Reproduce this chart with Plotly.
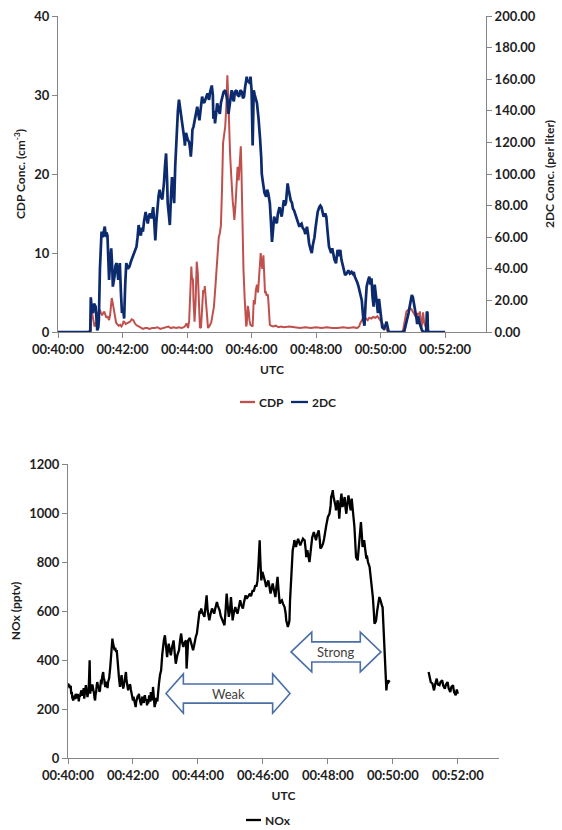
import plotly.graph_objects as go
import pandas as pd

# ---------------------------------------------------------------
# Time axis: seconds elapsed after 00:40:00 UTC
# ---------------------------------------------------------------

# CDP droplet concentration (cm^-3)
cdp_sec = [0, 30, 60, 61, 62, 64, 66, 68, 70, 72, 74, 76, 78, 80, 82, 84, 86, 88, 90, 92,
           95, 97, 100, 102, 104, 106, 108, 110, 113, 116, 118, 120, 122, 124, 126, 128, 131,
           134, 137, 140, 143, 146, 150, 154, 158, 162, 166, 170, 175, 180, 185, 190, 195,
           200, 205, 210, 215, 220, 225, 230, 234, 237, 239, 241, 242, 244, 246, 248, 249,
           251, 252, 254, 256, 258, 260, 262, 264, 266, 268, 270, 272, 273, 275, 277, 279,
           282, 285, 287, 290, 293, 295, 297, 299, 301, 303, 305, 307, 309, 311, 313, 315,
           317, 318, 320, 322, 323, 325, 326, 328, 330, 331, 333, 334, 336, 338, 340, 341,
           342, 343, 345, 347, 348, 350, 351, 353, 355, 356, 358, 360, 362, 364, 366, 368,
           370, 372, 374, 376, 377, 378, 380, 382, 383, 385, 386, 388, 390, 391, 393, 394,
           396, 400, 405, 410, 415, 420, 430, 440, 450, 460, 470, 480, 490, 500, 510, 520,
           530, 540, 550, 556, 560, 562, 564, 566, 568, 570, 573, 576, 579, 583, 586, 590,
           594, 597, 600, 603, 606, 608, 611, 614, 620, 630, 640, 642, 644, 646, 648, 651,
           654, 657, 660, 663, 665, 667, 669, 671, 673, 675, 676, 678, 679, 681, 683, 685,
           686, 687, 688, 689, 695]
cdp_conc = [0, 0, 0, 0.2, 3.0, 2.2, 1.5, 0.7, 1.0, 1.3, 2.4, 2.6, 2.8, 2.4, 2.1, 2.4, 2.6,
            2.2, 1.8, 2.0, 1.5, 2.2, 4.3, 3.6, 2.8, 1.8, 1.2, 1.0, 0.8, 0.9, 0.7, 0.9, 1.4,
            1.2, 1.0, 1.1, 1.2, 1.3, 1.6, 1.5, 1.1, 0.85, 0.7, 0.6, 0.4, 0.5, 0.5, 0.4, 0.5,
            0.5, 0.6, 0.4, 0.5, 0.6, 0.7, 0.5, 0.6, 0.5, 0.6, 0.5, 0.6, 0.8, 1.1, 0.7, 0.5,
            1.5, 5.0, 8.3, 7.0, 6.6, 4.0, 1.3, 4.0, 8.9, 7.5, 3.5, 0.5, 0.6, 2.5, 5.3, 5.0,
            5.8, 4.0, 1.5, 0.5, 0.8, 1.2, 2.0, 3.2, 6.0, 8.3, 10.5, 12.0, 12.5, 13.5, 18.0,
            23.9, 25.0, 26.0, 28.5, 32.5, 29.0, 26.0, 22.6, 20.0, 18.4, 16.5, 15.9, 14.2,
            16.0, 17.6, 19.5, 20.9, 19.2, 21.8, 23.5, 21.0, 17.6, 13.0, 7.8, 4.5, 3.2, 0.7,
            1.0, 3.3, 2.5, 1.5, 0.9, 0.8, 0.7, 4.05, 3.5, 5.3, 6.0, 5.0, 7.4, 9.0, 10.0, 9.0,
            8.0, 9.7, 8.0, 4.9, 5.2, 4.6, 4.8, 4.2, 2.0, 0.9, 0.8, 0.7, 0.8, 0.6, 0.7, 0.6,
            0.7, 0.6, 0.5, 0.6, 0.5, 0.6, 0.5, 0.6, 0.5, 0.5, 0.6, 0.5, 0.6, 0.5, 0.7, 1.1,
            1.3, 1.6, 1.5, 1.4, 1.7, 1.5, 1.8, 1.7, 1.9, 1.8, 2.0, 1.7, 1.5, 1.2, 0.9, 0.7,
            0.3, 0, 0, 0, 0, 0.3, 1.05, 1.8, 2.6, 2.8, 3.0, 2.9, 2.5, 2.2, 2.0, 1.9, 2.4,
            2.1, 2.6, 1.5, 0.6, 1.5, 2.5, 1.2, 0.6, 0.4, 1.5, 2.5, 0.5, 0, 0]

# 2DC particle concentration (per liter)
twodc_sec = [0, 30, 55, 60, 61, 63, 65, 67, 70, 72, 73, 75, 76, 78, 81, 83, 85, 87, 89, 90,
             92, 94, 95, 97, 99, 101, 102, 105, 107, 109, 111, 112, 114, 115, 117, 119, 121,
             123, 125, 127, 130, 133, 136, 140, 143, 146, 148, 150, 152, 154, 156, 158, 160,
             163, 165, 167, 169, 171, 174, 177, 179, 181, 183, 185, 187, 189, 191, 194, 196,
             197, 199, 201, 203, 204, 206, 208, 210, 212, 214, 216, 218, 221, 223, 225, 227,
             229, 231, 233, 235, 236, 238, 239, 241, 244, 246, 247, 249, 250, 252, 255, 257,
             259, 261, 263, 265, 268, 270, 272, 275, 278, 280, 281, 283, 286, 288, 289, 291,
             292, 294, 296, 298, 301, 303, 306, 308, 311, 313, 315, 317, 320, 322, 323, 325,
             327, 329, 332, 334, 337, 339, 342, 344, 346, 348, 351, 353, 355, 357, 358, 360,
             361, 362, 363, 364, 366, 368, 370, 373, 374, 376, 378, 379, 381, 382, 384, 387,
             389, 391, 392, 394, 396, 398, 400, 402, 404, 407, 409, 412, 414, 416, 418, 420,
             422, 424, 426, 427, 429, 431, 433, 435, 437, 439, 441, 444, 446, 449, 451, 453,
             455, 458, 460, 463, 465, 467, 470, 472, 474, 477, 479, 481, 483, 486, 488, 490,
             492, 494, 497, 499, 501, 504, 506, 508, 510, 512, 514, 517, 519, 520, 522, 525,
             527, 530, 532, 534, 537, 540, 543, 546, 548, 550, 552, 555, 557, 559, 561, 563,
             565, 568, 570, 572, 574, 577, 579, 581, 583, 585, 587, 589, 591, 593, 595, 597,
             599, 601, 603, 606, 609, 611, 613, 615, 620, 630, 640, 644, 646, 648, 650, 652,
             654, 656, 658, 660, 662, 664, 665, 667, 668, 670, 672, 674, 676, 677, 680, 684,
             685, 686, 687, 688, 689, 700, 710, 720]
twodc_conc = [0, 0, 0, 0.5, 22, 14, 12, 18, 16, 6, 1, 3, 7.6, 40, 63.5, 60, 64, 66.7, 60, 63,
              61, 45, 33, 45, 53, 40, 28.7, 35, 42, 43.6, 38, 33, 40, 43.6, 25, 12, 15, 8.5,
              30, 43.6, 40, 41.5, 45, 48.7, 52, 54, 60, 67.7, 63, 61, 66, 63.5, 70, 76, 72,
              68.6, 73, 75, 72, 79, 70, 58, 70, 79, 86, 90, 86, 84, 90, 94, 105, 113, 95,
              81.5, 75, 67.7, 85, 98, 90, 81.5, 105, 128, 140, 147, 143, 137, 132, 128, 122,
              118, 126, 125, 122, 120, 115, 111, 120, 128, 130, 135, 140, 142.6, 138, 134, 140,
              149, 146, 145, 148, 151, 148, 147, 152, 156, 150, 135, 140, 132, 138, 144.7, 142,
              138, 145, 149, 152, 153, 150, 147, 138, 144.7, 150, 153, 148, 146, 152, 153, 150,
              149, 153, 152, 148, 149, 155, 161.6, 158, 159, 157, 161.6, 153, 140, 118, 135,
              153, 150, 147, 145, 135, 128, 121.5, 110, 100, 95, 92, 88, 85.6, 90, 88, 86,
              81.5, 70, 57, 65, 73, 70, 69, 75, 79, 76, 73, 78, 83.5, 80, 82, 90, 94, 90, 86,
              83, 82, 78, 77, 75, 73, 70, 66.6, 68, 68.6, 66, 64.5, 62, 66.6, 62, 56, 52, 50,
              55, 60, 66, 71, 76, 79, 80, 79, 76, 73, 75, 73, 65, 54, 52, 50, 53, 48, 46,
              43.5, 49, 52, 48, 52, 46, 41, 38, 36, 37, 39, 37, 38, 37, 38, 35, 33, 31, 28.7,
              25, 22, 20, 7.6, 4, 18, 28.7, 33, 35, 30, 34, 22, 16, 30, 24, 14, 12, 21, 14,
              6.5, 3, 2, 4, 6.5, 2, 0, 0, 0, 0, 0.5, 3.4, 5, 8, 12, 16, 21, 23.4, 22, 18, 15,
              14, 8, 5, 10, 6, 3, 2, 1, 0, 0, 2, 13, 12, 1, 0, 0, 0, 0]

# NOx mixing ratio (pptv); None marks the gap in the record
nox_sec = [0, 1, 2, 3, 5, 6, 7, 8, 10, 11,
           12, 13, 14, 15, 17, 18, 20, 21, 22, 24,
           25, 26, 27, 29, 30, 31, 33, 34, 35, 36,
           37, 38, 39, 40, 41, 42, 43, 45, 46, 47,
           48, 49, 50, 51, 52, 53, 54, 56, 57, 58,
           59, 61, 62, 63, 65, 66, 67, 68, 69, 70,
           72, 73, 74, 76, 77, 78, 79, 80, 81, 82,
           83, 84, 85, 86, 87, 88, 89, 90, 91, 92,
           93, 94, 95, 96, 97, 98, 99, 100, 101, 102,
           103, 104, 106, 107, 108, 109, 110, 111, 112, 113,
           114, 115, 116, 118, 119, 120, 121, 122, 123, 124,
           125, 126, 127, 128, 129, 130, 131, 132, 133, 134,
           135, 136, 137, 138, 140, 141, 142, 143, 145, 146,
           147, 148, 149, 150, 151, 152, 153, 154, 155, 156,
           157, 158, 159, 160, 161, 162, 163, 165, 166, 167,
           168, 170, 172, 174, 175, 177, 179, 181, 183, 185, 186, 188, 190, 192,
           195, 197, 199, 202, 205, 207, 209, 211, 213, 215, 218, 219, 220, 222, 225, 228,
           231, 233, 234, 236, 238, 239, 241, 243, 244, 246, 248, 250, 252, 254, 256, 258,
           261, 263, 266, 268, 270, 272, 275, 277, 280, 282, 285, 287, 289, 291, 293, 295,
           297, 299, 301, 303, 304, 306, 309, 311, 313, 315, 318, 320, 323, 325, 328, 330,
           332, 334, 336, 338, 341, 343, 346, 348, 350, 352, 353, 354, 355, 357, 359, 362,
           364, 366, 368, 370, 372, 374, 376, 378, 380, 383, 385, 387, 389, 391, 393, 395,
           397, 400, 402, 403, 405, 406, 408, 409, 410, 412, 414, 415, 417, 418, 420, 421,
           423, 425, 427, 429, 431, 434, 436, 437, 439, 440, 442, 444, 446, 448, 449, 451,
           454, 456, 458, 460, 463, 465, 466, 468, 471, 473, 475, 477, 480, 483, 485, 486,
           488, 489, 490, 492, 494, 495, 497, 498, 500, 501, 503, 505, 507, 509, 511, 512,
           514, 516, 518, 520, 522, 524, 526, 529, 531, 532, 535, 537, 538, 540, 541, 543,
           544, 546, 547, 549, 551, 552, 554, 557, 559, 560, 562, 563, 565, 566, 568, 569,
           571, 572, 574, 575, 577, 578, 580, 581, 582, 583, 585, 586, 588, 589, 590, 592,
           594, 630, 666, 668, 670, 673, 675, 676, 678, 681, 683, 686, 688, 691, 693, 696,
           698, 701, 703, 706, 708, 711, 713, 716, 718, 720]
nox_pptv = [304, 298, 300, 285, 295, 260, 270, 245, 235, 255,
            250, 240, 262, 250, 245, 262, 231, 255, 250, 270,
            276, 255, 260, 285, 242, 265, 297, 280, 270, 249,
            265, 270, 330, 399, 263, 280, 275, 300, 290, 270,
            265, 245, 235, 260, 270, 295, 310, 285, 290, 270,
            276, 320, 300, 330, 351, 325, 320, 300, 290, 310,
            300, 285, 310, 325, 340, 370, 399, 420, 450, 487,
            470, 460, 445, 440, 450, 445, 433, 440, 420, 399,
            360, 330, 300, 290, 310, 320, 338, 310, 300, 283,
            295, 310, 330, 351, 320, 300, 285, 276, 290, 285,
            300, 297, 280, 260, 250, 235, 250, 240, 225, 215,
            208, 230, 245, 240, 255, 250, 262, 245, 230, 220,
            215, 230, 250, 240, 225, 250, 256, 240, 235, 215,
            240, 222, 235, 255, 250, 230, 269, 255, 250, 235,
            290, 260, 240, 208, 220, 225, 245, 231, 255, 270,
            304, 340, 358, 420, 446, 480, 501, 460, 412, 450, 467, 440, 419, 450,
            480, 430, 385, 420, 440, 480, 508, 470, 453, 470, 480, 365, 420, 480, 490, 467,
            440, 460, 480, 495, 508, 530, 562, 600, 589, 610, 595, 585, 576, 620, 664, 600,
            562, 585, 610, 600, 589, 610, 637, 620, 603, 580, 562, 555, 542, 600, 671, 620,
            576, 600, 657, 600, 562, 590, 616, 600, 589, 610, 644, 625, 610, 635, 664, 650,
            657, 665, 671, 660, 685, 680, 705, 700, 725, 800, 882, 889, 820, 725, 760, 739,
            720, 698, 710, 725, 700, 671, 690, 712, 690, 657, 700, 739, 680, 630, 640, 644,
            630, 616, 590, 562, 545, 535, 550, 562, 640, 725, 800, 848, 870, 889, 875, 861,
            880, 895, 880, 868, 880, 895, 890, 889, 850, 820, 848, 830, 800, 840, 875, 900,
            922, 900, 889, 910, 929, 890, 855, 860, 875, 895, 916, 950, 984, 997, 1030, 1065,
            1080, 1093, 1070, 1052, 1030, 1011, 1040, 1052, 1010, 977, 1040, 1079, 1024, 1040,
            1065, 1030,
            997, 1040, 1072, 1040, 1011, 1059, 1020, 943, 860, 820, 807, 850, 889, 930, 963, 900,
            861, 880, 889, 850, 814, 827, 800, 780, 740, 725, 690, 657, 590, 548, 555, 562,
            600, 616, 640, 657, 645, 630, 620, 616, 560, 480, 371, 330, 276, 300, 317, 310,
            317, None, 351, 330, 310, 304, 290, 276, 300, 324, 300, 297, 310, 317, 295, 283,
            300, 310, 285, 269, 290, 297, 270, 256, 280, 262]

# Transport regions marked on the NOx panel: (label, start s, end s, centre pptv)
regions = [("Weak", 181, 410, 263), ("Strong", 412, 578, 433)]

T0 = pd.Timestamp("2000-01-01 00:40:00")
T_END_SEC = 796


def to_time(secs):
    return [T0 + pd.Timedelta(seconds=s) for s in secs]


def to_ms(sec):
    t = T0 + pd.Timedelta(seconds=sec)
    return (t - pd.Timestamp("1970-01-01")).total_seconds() * 1000.0


W, H = 562, 830
FONT = "Lato, 'Open Sans', sans-serif"
AXIS_GREY = "#868686"
TEXT = "#1e1e1e"
RED = "#C0504D"
NAVY = "#0C2A6E"


def px_x(px):
    return px / W


def px_y(px):
    return 1 - px / H


fig = go.Figure()

fig.add_trace(go.Scatter(
    x=to_time(cdp_sec), y=cdp_conc, name="CDP", mode="lines",
    line=dict(color=RED, width=2), xaxis="x", yaxis="y", showlegend=False))
fig.add_trace(go.Scatter(
    x=to_time(twodc_sec), y=twodc_conc, name="2DC", mode="lines",
    line=dict(color=NAVY, width=2.7), xaxis="x", yaxis="y2", showlegend=False))
fig.add_trace(go.Scatter(
    x=to_time(nox_sec), y=nox_pptv, name="NOx", mode="lines", connectgaps=False,
    line=dict(color="black", width=2.3), xaxis="x2", yaxis="y3", showlegend=False))

tickfont = dict(family=FONT, size=13, color=TEXT, weight="bold")
titlefont = dict(family=FONT, size=12, color=TEXT, weight="bold")

axis_common = dict(showline=True, linecolor=AXIS_GREY, linewidth=1, ticks="outside",
                   ticklen=5, tickcolor=AXIS_GREY, showgrid=False, zeroline=False,
                   tickfont=tickfont, fixedrange=True, automargin=False)

time_axis = dict(type="date", range=[T0, T0 + pd.Timedelta(seconds=T_END_SEC)],
                 tick0=T0, dtick=120000, tickformat="%H:%M:%S", **axis_common)

fig.update_layout(
    width=W, height=H, margin=dict(l=0, r=0, t=0, b=0, autoexpand=False),
    paper_bgcolor="white", plot_bgcolor="white", showlegend=False,
    xaxis=dict(domain=[px_x(58), px_x(486)], anchor="y",
               title=dict(text="UTC", font=titlefont, standoff=10), **time_axis),
    yaxis=dict(domain=[px_y(332), px_y(16)], anchor="x", range=[0, 40], dtick=10,
               title=dict(text="CDP Conc. (cm<sup>-3</sup>)", font=titlefont, standoff=6),
               **axis_common),
    yaxis2=dict(overlaying="y", side="right", anchor="x", range=[0, 200], dtick=20,
                tickformat=".2f",
                title=dict(text="2DC Conc. (per liter)", font=titlefont, standoff=10),
                **axis_common),
    xaxis2=dict(domain=[px_x(68), px_x(499)], anchor="y3",
                title=dict(text="UTC", font=titlefont, standoff=10), **time_axis),
    yaxis3=dict(domain=[px_y(758), px_y(464)], anchor="x2", range=[0, 1200], dtick=200,
                title=dict(text="NOx (pptv)", font=titlefont, standoff=6),
                **axis_common),
)

# Double-headed arrows with labels on the NOx panel
ARROW = "#4A6FA5"
for label, s0, s1, yc in regions:
    span = s1 - s0
    head = span * (0.14 if label == "Weak" else 0.23)
    half_h = 80 if label == "Weak" else 81
    half_s = 39 if label == "Weak" else 41
    xa, xb = to_ms(s0), to_ms(s1)
    xh1, xh2 = to_ms(s0 + head), to_ms(s1 - head)
    pts = [(xa, yc), (xh1, yc + half_h), (xh1, yc + half_s), (xh2, yc + half_s),
           (xh2, yc + half_h), (xb, yc), (xh2, yc - half_h), (xh2, yc - half_s),
           (xh1, yc - half_s), (xh1, yc - half_h)]
    path = "M " + " L ".join(f"{px},{py}" for px, py in pts) + " Z"
    fig.add_shape(type="path", path=path, xref="x2", yref="y3",
                  line=dict(color=ARROW, width=1.6), fillcolor="white")
    fig.add_annotation(x=T0 + pd.Timedelta(seconds=(s0 + s1) / 2), y=yc, xref="x2",
                       yref="y3", text=label, showarrow=False,
                       font=dict(family=FONT, size=13, color="#404040"))

# Legends drawn as short line keys with labels
legend_items = [
    (RED, 240, 255, 402, "CDP"),
    (NAVY, 291, 308, 402, "2DC"),
    ("black", 246, 261, 820, "NOx"),
]
for color, x0, x1, yp, label in legend_items:
    fig.add_shape(type="line", xref="paper", yref="paper",
                  x0=px_x(x0), x1=px_x(x1), y0=px_y(yp), y1=px_y(yp),
                  line=dict(color=color, width=2.3))
    fig.add_annotation(x=px_x(x1 + 1.5), y=px_y(yp), xref="paper", yref="paper",
                       xanchor="left", yanchor="middle", text=label, showarrow=False,
                       font=dict(family=FONT, size=12, color=TEXT, weight="bold"))

fig.write_html("out.html")
